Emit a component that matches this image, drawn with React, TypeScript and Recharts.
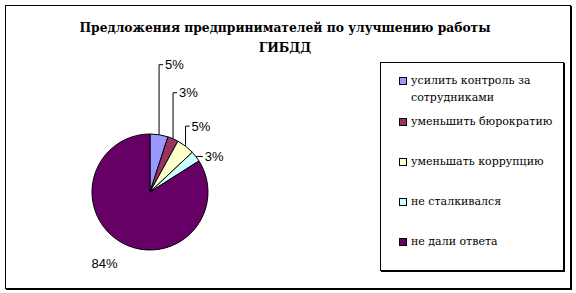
import React from 'react';
import { PieChart, Pie, Cell, Legend } from 'recharts';

const CATEGORIES = [
  'усилить контроль за сотрудниками',
  'уменьшить бюрократию',
  'уменьшать коррупцию',
  'не сталкивался',
  'не дали ответа',
];
const SHARES = [5, 3, 5, 3, 84];
const COLORS = ['#9999FF', '#993366', '#FFFFCC', '#CCFFFF', '#660066'];
const TITLE_LINES = ['Предложения предпринимателей по улучшению работы', 'ГИБДД'];

const SERIF = "'DejaVu Serif', serif";
const SANS = "'Liberation Sans', Arial, sans-serif";

// leader line shape per slice: rise = vertical distance to label, run = horizontal tick
const LEADERS = [
  { rise: 70, run: 4 },
  { rise: 46, run: 4 },
  { rise: 20, run: 4 },
  { rise: 0, run: 7 },
  null,
];

const data = CATEGORIES.map((name, i) => ({ name, value: SHARES[i] }));

const RAD = Math.PI / 180;

const renderLabel = (props: any) => {
  const { cx, cy, midAngle, outerRadius, percent, index } = props;
  const text = `${Math.round(percent * 100)}%`;
  const lead = LEADERS[index];
  if (!lead) {
    const r = outerRadius + 24;
    const x = cx + r * Math.cos(-midAngle * RAD) - 6;
    const y = cy + r * Math.sin(-midAngle * RAD);
    return (
      <text x={x} y={y} textAnchor="middle" dominantBaseline="central" fontFamily={SANS} fontSize={13} fill="#000">
        {text}
      </text>
    );
  }
  const ex = cx + outerRadius * Math.cos(-midAngle * RAD);
  const ey = cy + outerRadius * Math.sin(-midAngle * RAD);
  const ty = ey - lead.rise;
  const tx = ex + lead.run;
  return (
    <g>
      <polyline points={`${ex},${ey} ${ex},${ty} ${tx},${ty}`} fill="none" stroke="#000" strokeWidth={1} />
      <text x={tx + 2} y={ty} dominantBaseline="central" fontFamily={SANS} fontSize={13} fill="#000">
        {text}
      </text>
    </g>
  );
};

const LegendBox = () => (
  <div
    style={{
      position: 'relative',
      width: 182,
      height: 207,
      border: '1px solid #000',
      boxShadow: '1px 1px 0 #000',
      background: '#fff',
      fontFamily: SERIF,
      fontSize: 11,
      color: '#000',
    }}
  >
    {data.map((d, i) => (
      <div
        key={d.name}
        style={{
          position: 'absolute',
          left: 18,
          top: i === 0 ? 9 : 50 + (i - 1) * 40,
          width: 158,
          display: 'flex',
          alignItems: 'flex-start',
          lineHeight: '17px',
        }}
      >
        <span
          style={{
            display: 'inline-block',
            width: 6,
            height: 6,
            marginTop: 5,
            marginRight: 4,
            flex: 'none',
            background: COLORS[i],
            border: '1px solid #000',
          }}
        />
        <span>{d.name}</span>
      </div>
    ))}
  </div>
);

export default function App() {
  return (
    <div style={{ position: 'absolute', left: 0, top: 0, width: 576, height: 293, background: '#fff' }}>
      <div
        style={{
          position: 'absolute',
          left: 5,
          top: 5,
          width: 564,
          height: 282,
          border: '1px solid #000',
          boxShadow: '1px 1px 0 #000',
        }}
      />
      <div
        style={{
          position: 'absolute',
          left: 0,
          top: 18,
          width: 570,
          textAlign: 'center',
          fontFamily: SERIF,
          fontWeight: 'bold',
          fontSize: 12.3,
          lineHeight: '20px',
          color: '#000',
        }}
      >
        {TITLE_LINES.map((l) => (
          <div key={l}>{l}</div>
        ))}
      </div>
      <div style={{ position: 'absolute', left: 0, top: 0 }}>
        <PieChart width={576} height={293} margin={{ top: 0, right: 0, bottom: 0, left: 0 }}>
          <Pie
            data={data}
            dataKey="value"
            nameKey="name"
            cx={150}
            cy={192}
            outerRadius={58}
            startAngle={90}
            endAngle={-270}
            stroke="#000"
            strokeWidth={1}
            label={renderLabel}
            labelLine={false}
            isAnimationActive={false}
          >
            {data.map((d, i) => (
              <Cell key={d.name} fill={COLORS[i]} />
            ))}
          </Pie>
          <Legend
            content={<LegendBox />}
            wrapperStyle={{ position: 'absolute', left: 380, top: 62, width: 184, height: 209 }}
          />
        </PieChart>
      </div>
    </div>
  );
}
